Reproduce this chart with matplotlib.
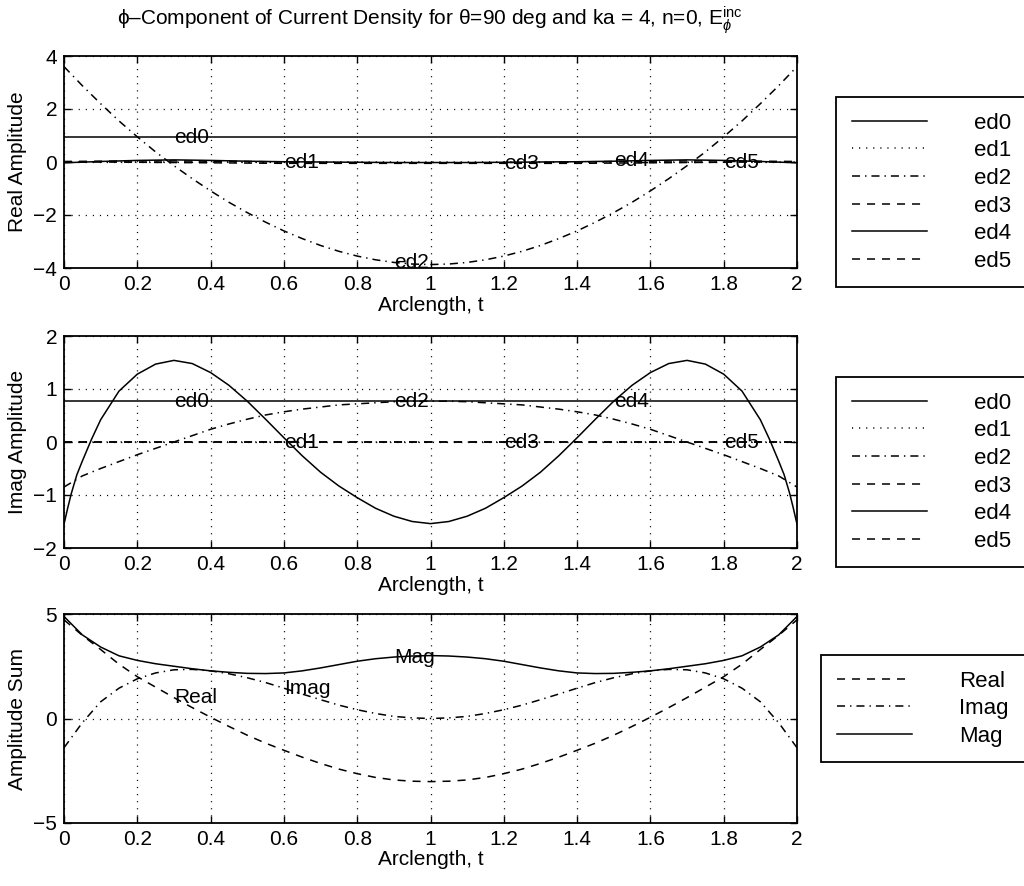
import numpy as np
import matplotlib
matplotlib.use('Agg')
import matplotlib.pyplot as plt

plt.rcParams['font.family'] = ['Liberation Sans Narrow', 'Liberation Sans', 'DejaVu Sans']
plt.rcParams['mathtext.fontset'] = 'custom'
plt.rcParams['mathtext.rm'] = 'Liberation Sans'
plt.rcParams['mathtext.it'] = 'Liberation Sans:italic'
plt.rcParams['mathtext.fallback'] = 'stixsans'
plt.rcParams['lines.scale_dashes'] = False

# arclength samples
t_ends = [0.0, 2.0]
t_coarse = [0.0, 0.1, 0.2, 0.3, 0.4, 0.5, 0.6, 0.7, 0.8, 0.9, 1.0,
            1.1, 1.2, 1.3, 1.4, 1.5, 1.6, 1.7, 1.8, 1.9, 2.0]
t_fine = [0.0, 0.05, 0.1, 0.15, 0.2, 0.25, 0.3, 0.35, 0.4, 0.45, 0.5,
          0.55, 0.6, 0.65, 0.7, 0.75, 0.8, 0.85, 0.9, 0.95, 1.0,
          1.05, 1.1, 1.15, 1.2, 1.25, 1.3, 1.35, 1.4, 1.45, 1.5,
          1.55, 1.6, 1.65, 1.7, 1.75, 1.8, 1.85, 1.9, 1.95, 2.0]
t_ed4 = [0.0, 0.01, 0.02, 0.035, 0.05, 0.075, 0.1, 0.15, 0.2, 0.25, 0.3, 0.35, 0.4, 0.45, 0.5,
         0.55, 0.6, 0.65, 0.7, 0.75, 0.8, 0.85, 0.9, 0.95, 1.0,
         1.05, 1.1, 1.15, 1.2, 1.25, 1.3, 1.35, 1.4, 1.45, 1.5,
         1.55, 1.6, 1.65, 1.7, 1.75, 1.8, 1.85, 1.9, 1.925, 1.95, 1.965, 1.98, 1.99, 2.0]

# real part, one list per edge term
ed0_re = [0.93, 0.93]
ed1_re = [0.0, 0.0]
ed2_re = [3.60, 2.88, 2.20, 1.55, 0.95, 0.38, -0.14, -0.63, -1.09, -1.52, -1.91,
          -2.27, -2.60, -2.89, -3.15, -3.37, -3.55, -3.69, -3.79, -3.85, -3.87,
          -3.85, -3.79, -3.69, -3.55, -3.37, -3.15, -2.89, -2.60, -2.27, -1.91,
          -1.52, -1.09, -0.63, -0.14, 0.38, 0.95, 1.55, 2.20, 2.88, 3.60]
ed3_re = [0.0, 0.0, -0.01, -0.02, -0.03, -0.04, -0.05, -0.05, -0.05, -0.05, -0.05,
          -0.05, -0.05, -0.05, -0.05, -0.04, -0.03, -0.02, -0.01, 0.0, 0.0]
ed4_re = [-0.03, 0.02, 0.06, 0.08, 0.06, 0.03, 0.01, 0.0, -0.01, -0.02, -0.02,
          -0.02, -0.01, 0.0, 0.01, 0.03, 0.06, 0.08, 0.06, 0.02, -0.03]
ed5_re = [0.02, 0.03, 0.04, 0.04, 0.03, 0.02, 0.0, -0.02, -0.03, -0.03, -0.03,
          -0.03, -0.03, -0.02, 0.0, 0.02, 0.03, 0.04, 0.04, 0.03, 0.02]

# imaginary part
ed0_im = [0.77, 0.77]
ed1_im = [0.0, 0.0]
ed2_im = [-0.85, -0.64, -0.50, -0.37, -0.24, -0.12, 0.0, 0.12, 0.24, 0.34, 0.43,
          0.51, 0.57, 0.62, 0.66, 0.70, 0.72, 0.74, 0.76, 0.77, 0.77,
          0.77, 0.76, 0.74, 0.72, 0.70, 0.66, 0.62, 0.57, 0.51, 0.43,
          0.34, 0.24, 0.12, 0.0, -0.12, -0.24, -0.37, -0.50, -0.64, -0.85]
ed3_im = [0.0, 0.0]
ed4_im = [-1.55, -1.25, -0.97, -0.62, -0.36, 0.05, 0.42, 0.96, 1.28, 1.47, 1.54, 1.48, 1.31, 1.07, 0.77,
          0.43, 0.08, -0.26, -0.57, -0.83, -1.05, -1.25, -1.40, -1.50, -1.54,
          -1.50, -1.40, -1.25, -1.05, -0.83, -0.57, -0.26, 0.08, 0.43, 0.77,
          1.07, 1.31, 1.48, 1.54, 1.47, 1.28, 0.96, 0.42, 0.05, -0.36, -0.62, -0.97, -1.25, -1.55]
ed5_im = [0.0, 0.0]

# sums
sum_re = [4.72, 3.98, 3.30, 2.60, 2.00, 1.50, 1.00, 0.52, 0.06, -0.38, -0.80,
          -1.18, -1.52, -1.85, -2.15, -2.42, -2.64, -2.82, -2.94, -3.00, -3.02,
          -3.00, -2.94, -2.82, -2.64, -2.42, -2.15, -1.85, -1.52, -1.18, -0.80,
          -0.38, 0.06, 0.52, 1.00, 1.50, 2.00, 2.60, 3.30, 3.98, 4.72]
sum_im = [-1.40, -0.20, 0.80, 1.45, 1.90, 2.18, 2.33, 2.35, 2.28, 2.14, 1.95,
          1.72, 1.45, 1.17, 0.90, 0.64, 0.42, 0.24, 0.10, 0.03, 0.00,
          0.03, 0.10, 0.24, 0.42, 0.64, 0.90, 1.17, 1.45, 1.72, 1.95,
          2.14, 2.28, 2.35, 2.33, 2.18, 1.90, 1.45, 0.80, -0.20, -1.40]
sum_mag = [4.88, 4.00, 3.42, 3.00, 2.78, 2.62, 2.50, 2.38, 2.28, 2.21, 2.16,
           2.15, 2.18, 2.28, 2.42, 2.58, 2.74, 2.86, 2.94, 2.99, 3.01,
           2.99, 2.94, 2.86, 2.74, 2.58, 2.42, 2.28, 2.18, 2.15, 2.16,
           2.21, 2.28, 2.38, 2.50, 2.62, 2.78, 3.00, 3.42, 4.00, 4.88]

xticks = [0, 0.2, 0.4, 0.6, 0.8, 1.0, 1.2, 1.4, 1.6, 1.8, 2.0]
xticklabels = ['0', '0.2', '0.4', '0.6', '0.8', '1', '1.2', '1.4', '1.6', '1.8', '2']
ed_names = ['ed0', 'ed1', 'ed2', 'ed3', 'ed4', 'ed5']
label_t = [0.3, 0.6, 0.9, 1.2, 1.5, 1.8]

SOLID = '-'
DOT = (0, (0.8, 4.3))
DASH = (0, (5.8, 5.0))
DASHDOT = (0, (5.8, 3.6, 1.0, 3.6))

W, H = 1024, 886
fig = plt.figure(figsize=(W / 100, H / 100), dpi=100)

def make_axes(top_px, bottom_px):
    left, right = 64, 797
    return fig.add_axes([left / W, 1 - bottom_px / H, (right - left) / W, (bottom_px - top_px) / H])

def style(ax, ylim, yticks, ylabel):
    ax.set_xlim(0, 2)
    ax.set_ylim(*ylim)
    ax.set_xticks(xticks)
    ax.set_xticklabels(xticklabels)
    ax.set_yticks(yticks)
    ax.tick_params(direction='in', top=True, right=True, length=5, width=1.0,
                   labelsize=15, pad=5)
    ax.grid(True, color='k', linestyle=DOT, linewidth=0.9)
    for s in ax.spines.values():
        s.set_linewidth(1.3)
    ax.set_xlabel('Arclength, t', fontsize=15)
    ax.xaxis.set_label_coords(0.5, -0.13)
    ax.set_ylabel(ylabel, fontsize=15, family=['Liberation Sans', 'DejaVu Sans'])
    ax.yaxis.set_label_coords(-0.05, 0.5)

def add_legend(ax, handles, labels, x_px, y_px):
    leg = ax.legend(handles, labels, loc='upper left', mode='expand',
                    bbox_to_anchor=(x_px / W, 1 - y_px / H, (1080 - x_px) / W, 0),
                    bbox_transform=fig.transFigure,
                    borderaxespad=0, fancybox=False, edgecolor='k', framealpha=1,
                    prop={'family': ['Liberation Sans', 'DejaVu Sans'], 'size': 16},
                    handlelength=3.4, handletextpad=2.1, labelspacing=0.3, borderpad=0.7)
    leg.get_frame().set_linewidth(1.3)

lw = 1.1

# top: real amplitude
ax1 = make_axes(56, 268)
h = []
h += ax1.plot(t_ends, ed0_re, color='k', lw=lw, linestyle=SOLID)
h += ax1.plot(t_ends, ed1_re, color='k', lw=lw, linestyle=DOT)
h += ax1.plot(t_fine, ed2_re, color='k', lw=lw, linestyle=DASHDOT)
h += ax1.plot(t_coarse, ed3_re, color='k', lw=lw, linestyle=DASH)
h += ax1.plot(t_coarse, ed4_re, color='k', lw=lw, linestyle=SOLID)
h += ax1.plot(t_coarse, ed5_re, color='k', lw=lw, linestyle=DASH)
re_at = [0.93, 0.0, -3.79, -0.05, 0.06, 0.0]
for name, tx, ty in zip(ed_names, label_t, re_at):
    ax1.text(tx, ty, name, fontsize=15, ha='left', va='center')
style(ax1, (-4, 4), [-4, -2, 0, 2, 4], 'Real Amplitude')
add_legend(ax1, h, ed_names, 836, 97)

# middle: imaginary amplitude
ax2 = make_axes(336, 548)
h = []
h += ax2.plot(t_ends, ed0_im, color='k', lw=lw, linestyle=SOLID)
h += ax2.plot(t_ends, ed1_im, color='k', lw=lw, linestyle=DOT)
h += ax2.plot(t_fine, ed2_im, color='k', lw=lw, linestyle=DASHDOT)
h += ax2.plot(t_ends, ed3_im, color='k', lw=lw, linestyle=DASH)
h += ax2.plot(t_ed4, ed4_im, color='k', lw=lw, linestyle=SOLID)
h += ax2.plot(t_ends, ed5_im, color='k', lw=lw, linestyle=DASH)
im_at = [0.77, 0.0, 0.76, 0.0, 0.77, 0.0]
for name, tx, ty in zip(ed_names, label_t, im_at):
    ax2.text(tx, ty, name, fontsize=15, ha='left', va='center')
style(ax2, (-2, 2), [-2, -1, 0, 1, 2], 'Imag Amplitude')
add_legend(ax2, h, ed_names, 836, 377)

# bottom: sums
ax3 = make_axes(614, 823)
h = []
h += ax3.plot(t_fine, sum_re, color='k', lw=lw, linestyle=DASH)
h += ax3.plot(t_fine, sum_im, color='k', lw=lw, linestyle=DASHDOT)
h += ax3.plot(t_fine, sum_mag, color='k', lw=lw, linestyle=SOLID)
ax3.text(0.3, 1.0, 'Real', fontsize=15, ha='left', va='center')
ax3.text(0.6, 1.45, 'Imag', fontsize=15, ha='left', va='center')
ax3.text(0.9, 2.94, 'Mag', fontsize=15, ha='left', va='center')
style(ax3, (-5, 5), [-5, 0, 5], 'Amplitude Sum')
add_legend(ax3, h, ['Real', 'Imag', 'Mag'], 821, 655)

fig.text(430 / W, 1 - 20 / H,
         r'ϕ–Component of Current Density for θ=90 deg and ka = 4, n=0, $\mathrm{E}_{\phi}^{\mathrm{inc}}$',
         ha='center', va='center', fontsize=15)

fig.savefig('out.png', dpi=100)
